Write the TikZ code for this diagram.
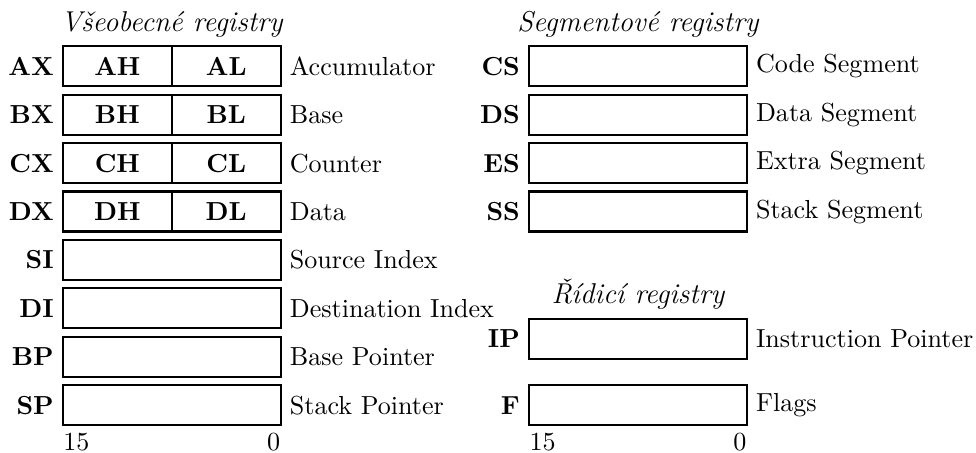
\documentclass[tikz,border=0pt]{standalone}
\usepackage{fontspec}
\usetikzlibrary{positioning}
\tikzset{
  reg/.style={draw,thick,minimum height=0.54cm,minimum width=2.935cm,inner sep=0pt,outer sep=0pt},
  half/.style={reg,minimum width=1.4675cm,font=\bfseries},
  regname/.style={left,font=\bfseries},
  regdesc/.style={right},
  grouptitle/.style={above,font=\fontsize{11}{13}\selectfont\itshape},
  bitnum/.style={inner xsep=0pt,inner ysep=2.8pt}
}
\begin{document}
\begin{tikzpicture}
\useasboundingbox (0,0) rectangle (13.154,-6.092);
% Vseobecne registry
\foreach \r/\h/\l/\d [count=\i from 0] in {AX/AH/AL/Accumulator, BX/BH/BL/Base, CX/CH/CL/Counter, DX/DH/DL/Data}{
  \node[half] (\h) at (1.5813,-0.8935-0.6523*\i) {\h};
  \node[half,right=0pt of \h] (\l) {\l};
  \node[regname] (n\r) at (\h.west) {\r};
  \node[regdesc] (d\r) at (\l.east) {\d};
}
\foreach \r/\d [count=\i from 4] in {SI/Source Index, DI/Destination Index, BP/Base Pointer, SP/Stack Pointer}{
  \node[reg] (\r) at (2.315,-0.8935-0.6523*\i) {};
  \node[regname] (n\r) at (\r.west) {\r};
  \node[regdesc] (d\r) at (\r.east) {\d};
}
\node[grouptitle] (tVse) at (AH.north east) {Všeobecné registry};
\node[bitnum,anchor=north west] (b15l) at (SP.south west) {15};
\node[bitnum,anchor=north east] (b0l) at (SP.south east) {0};

% Segmentove registry
\foreach \r/\d [count=\i from 0] in {CS/Code Segment, DS/Data Segment, ES/Extra Segment, SS/Stack Segment}{
  \node[reg] (\r) at (8.598,-0.8935-0.6523*\i) {};
  \node[regname] (n\r) at (\r.west) {\r};
  \node[regdesc] (d\r) at (\r.east) {\d};
}
\node[grouptitle] (tSeg) at (CS.north) {Segmentové registry};

% Ridici registry
\node[reg] (IP) at (8.598,-4.569) {};
\node[reg] (F) at (8.598,-5.46) {};
\node[regname] (nIP) at (IP.west) {IP};
\node[regname] (nF) at (F.west) {F};
\node[regdesc] (dIP) at (IP.east) {Instruction Pointer};
\node[regdesc] (dF) at (F.east) {Flags};
\node[grouptitle] (tRid) at (IP.north) {Řídicí registry};
\node[bitnum,anchor=north west] (b15r) at (F.south west) {15};
\node[bitnum,anchor=north east] (b0r) at (F.south east) {0};
\end{tikzpicture}
\end{document}
